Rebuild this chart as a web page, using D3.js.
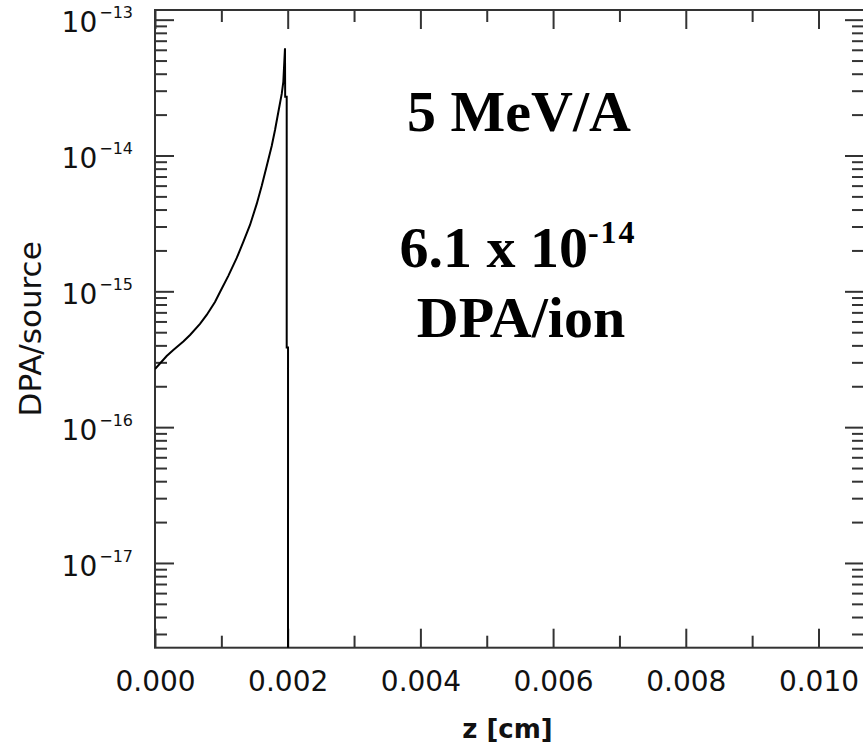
<!DOCTYPE html>
<html>
<head>
<meta charset="utf-8">
<script src="https://cdn.jsdelivr.net/npm/d3@7/dist/d3.min.js"></script>
<style>
  html, body { margin: 0; padding: 0; background: #fff; }
  #chart { width: 863px; height: 748px; }
  .tick-x { font-family: "DejaVu Sans", sans-serif; font-size: 28px; fill: #111; }
  .tick-y { font-family: "DejaVu Sans", sans-serif; font-size: 28px; fill: #111; }
  .note { font-family: "Liberation Serif", "Times New Roman", serif; font-weight: bold; font-size: 58px; fill: #000; }
</style>
</head>
<body>
<div id="chart"></div>
<script>
//Datos (z en cm, DPA por fuente)
const zValues = [0, 0.000176, 0.000276, 0.000427, 0.000528, 0.000678, 0.000779, 0.000904,
    0.00098, 0.001105, 0.001232, 0.001331, 0.001432, 0.001533, 0.001608, 0.001684,
    0.001759, 0.001809, 0.001859, 0.00191, 0.001934, 0.001959, 0.001962, 0.001985,
    0.001985, 0.002005, 0.002005];
const dpaValues = [2.68e-16, 3.34e-16, 3.70e-16, 4.27e-16, 4.77e-16, 5.75e-16, 6.70e-16, 8.35e-16,
    9.89e-16, 1.30e-15, 1.76e-15, 2.31e-15, 3.08e-15, 4.40e-15, 5.97e-15, 8.38e-15,
    1.175e-14, 1.54e-14, 2.09e-14, 2.84e-14, 3.48e-14, 6.15e-14, 2.71e-14, 2.71e-14,
    3.85e-16, 3.85e-16, 1e-20];

const xMajorTicks = [0, 0.002, 0.004, 0.006, 0.008, 0.010];
const xMinorTicks = [0.001, 0.003, 0.005, 0.007, 0.009];
const yDecades = [1e-17, 1e-16, 1e-15, 1e-14, 1e-13];
const yExponents = ['\u221217', '\u221216', '\u221215', '\u221214', '\u221213'];

const COLOR_AXIS = '#333';

let margin = {top: 10, right: 0, bottom: 100, left: 155},
    width = 709,
    height = 637.7;

let svg = d3.select('#chart')
    .append('svg')
        .attr('width', 863)
        .attr('height', 748)
    .append('g')
        .attr('transform', 'translate(' + margin.left + ',' + margin.top + ')');

let x = d3.scaleLinear()
    .domain([0, 0.010686])
    .range([0, width]);

let y = d3.scaleLog()
    .domain([2.378e-18, 1.178e-13])
    .range([height, 0]);

//Ticks menores en el eje Y (2..9 por década)
let yMinor = [];
[1e-18].concat(yDecades).forEach(function(d) {
    for (let k = 2; k <= 9; k++) {
        let v = d * k;
        if (v > y.domain()[0] && v < y.domain()[1]) yMinor.push(v);
    }
});

const MAJOR = 19, MINOR = 12;

function styleTicks(g) {
    g.select('.domain').remove();
    g.selectAll('.tick line').attr('stroke', COLOR_AXIS).attr('stroke-width', 2);
}

//Eje inferior y superior
svg.append('g')
    .attr('transform', 'translate(0,' + height + ')')
    .call(d3.axisBottom(x).tickValues(xMajorTicks).tickSize(-MAJOR).tickFormat(d3.format('.3f')))
    .call(styleTicks)
    .call(function(g) {
        g.selectAll('.tick text').attr('class', 'tick-x').attr('y', 43).attr('dy', 0)
            .attr('font-size', null).attr('font-family', null);
    });
svg.append('g')
    .attr('transform', 'translate(0,' + height + ')')
    .call(d3.axisBottom(x).tickValues(xMinorTicks).tickSize(-MINOR).tickFormat(''))
    .call(styleTicks);
svg.append('g')
    .call(d3.axisTop(x).tickValues(xMajorTicks).tickSize(-MAJOR).tickFormat(''))
    .call(styleTicks);
svg.append('g')
    .call(d3.axisTop(x).tickValues(xMinorTicks).tickSize(-MINOR).tickFormat(''))
    .call(styleTicks);

//Eje izquierdo y derecho
svg.append('g').call(d3.axisLeft(y).tickValues(yDecades).tickSize(-MAJOR).tickFormat('')).call(styleTicks);
svg.append('g').call(d3.axisLeft(y).tickValues(yMinor).tickSize(-MINOR).tickFormat('')).call(styleTicks);
svg.append('g').attr('transform', 'translate(' + width + ',0)')
    .call(d3.axisRight(y).tickValues(yDecades).tickSize(-MAJOR).tickFormat('')).call(styleTicks);
svg.append('g').attr('transform', 'translate(' + width + ',0)')
    .call(d3.axisRight(y).tickValues(yMinor).tickSize(-MINOR).tickFormat('')).call(styleTicks);

//Etiquetas del eje Y: 10 con exponente
let yLabels = svg.append('g').selectAll('text')
    .data(yDecades)
    .enter()
    .append('text')
    .attr('class', 'tick-y')
    .attr('text-anchor', 'end')
    .attr('x', -22)
    .attr('y', function(d) { return y(d) + 12.8; });
yLabels.append('tspan').text('10');
yLabels.append('tspan')
    .attr('dx', 2)
    .attr('dy', -14)
    .attr('font-size', 16)
    .text(function(d, i) { return yExponents[i]; });

//Marco
svg.append('rect')
    .attr('width', width)
    .attr('height', height)
    .attr('fill', 'none')
    .attr('stroke', COLOR_AXIS)
    .attr('stroke-width', 2);

//Curva
svg.append('clipPath').attr('id', 'clip')
    .append('rect').attr('width', width).attr('height', height);

svg.append('path')
    .datum(d3.range(zValues.length))
    .attr('clip-path', 'url(#clip)')
    .attr('fill', 'none')
    .attr('stroke', '#000')
    .attr('stroke-width', 2)
    .attr('d', d3.line()
        .x(function(i) { return x(zValues[i]); })
        .y(function(i) { return y(dpaValues[i]); })
    );

//Títulos de ejes
svg.append('text')
    .attr('x', width / 2 - 2)
    .attr('y', 728)
    .attr('text-anchor', 'middle')
    .attr('font-family', '"DejaVu Sans", sans-serif')
    .attr('font-weight', 'bold')
    .attr('font-size', 26)
    .attr('fill', '#111')
    .text('z [cm]');

svg.append('text')
    .attr('transform', 'translate(-114,' + (height / 2) + ') rotate(-90)')
    .attr('text-anchor', 'middle')
    .attr('font-family', '"DejaVu Sans", sans-serif')
    .attr('font-size', 31)
    .attr('fill', '#111')
    .text('DPA/source');

//Anotaciones
svg.append('text')
    .attr('class', 'note')
    .attr('x', 364)
    .attr('y', 121)
    .attr('text-anchor', 'middle')
    .text('5 MeV/A');

let note2 = svg.append('text')
    .attr('class', 'note')
    .attr('x', 363)
    .attr('y', 257)
    .attr('text-anchor', 'middle');
note2.append('tspan').text('6.1 x 10');
note2.append('tspan')
    .attr('dy', -24)
    .attr('font-size', 32)
    .attr('letter-spacing', 2)
    .text('-14');

svg.append('text')
    .attr('class', 'note')
    .attr('x', 366)
    .attr('y', 327)
    .attr('text-anchor', 'middle')
    .text('DPA/ion');
</script>
</body>
</html>
